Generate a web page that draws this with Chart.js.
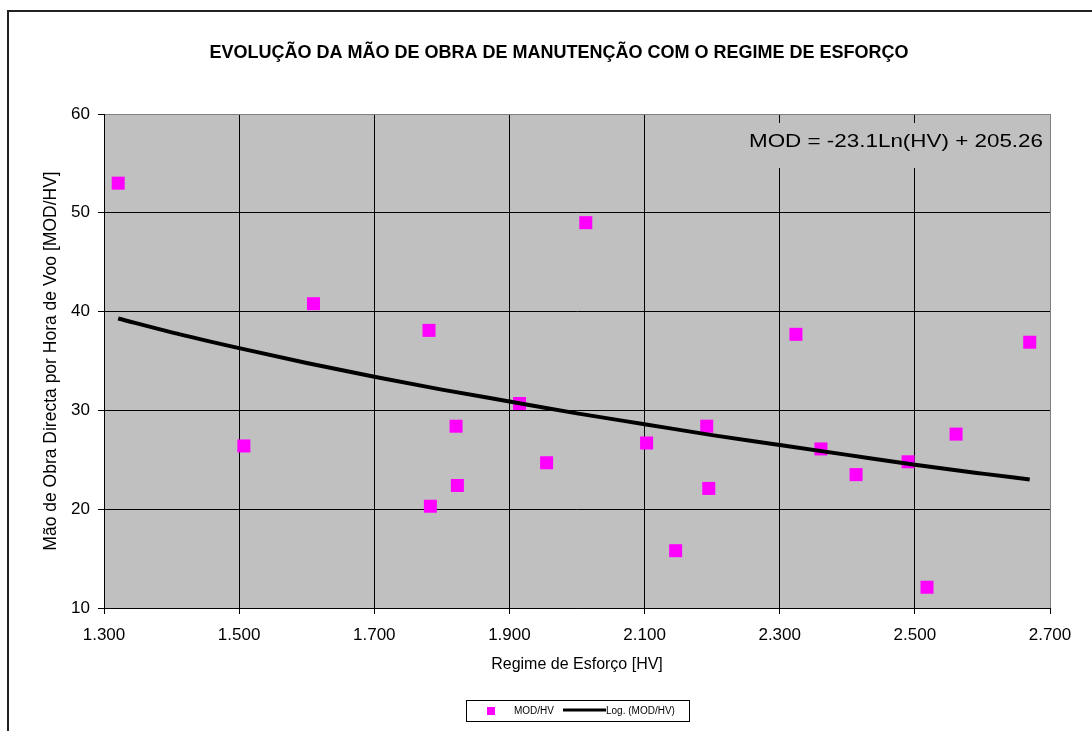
<!DOCTYPE html>
<html>
<head>
<meta charset="utf-8">
<script src="https://cdn.jsdelivr.net/npm/chart.js@4"></script>
<style>
  html, body { margin: 0; padding: 0; background: #fff; overflow: hidden; }
  #wrap { width: 1092px; height: 731px; }
</style>
</head>
<body>
<div id="wrap"><canvas id="chart"></canvas></div>
<script>
// Regime de Esforço [HV] vs MOD/HV
var hv = [1321, 1507, 1610, 1781, 1783, 1821, 1823, 1915, 1955, 2013, 2103,
          2146, 2192, 2195, 2324, 2361, 2413, 2490, 2518, 2561, 2670];
var mod = [53.0, 26.4, 40.8, 38.1, 20.3, 28.4, 22.4, 30.7, 24.7, 49.0, 26.7,
           15.8, 28.4, 22.1, 37.7, 26.1, 23.5, 24.8, 12.1, 27.6, 36.9];

// logarithmic trend line
var trendHv = [1321, 1400, 1500, 1600, 1700, 1800, 1900, 2000, 2100, 2200, 2300, 2400, 2500, 2600, 2670];
var trendMod = [39.3, 37.9, 36.3, 34.8, 33.4, 32.1, 30.9, 29.7, 28.6, 27.5, 26.5, 25.5, 24.5, 23.6, 23.0];

var title = 'EVOLUÇÃO DA MÃO DE OBRA DE MANUTENÇÃO COM O REGIME DE ESFORÇO';
var equation = 'MOD = -23.1Ln(HV) + 205.26';
var font = '"Liberation Sans", Arial, sans-serif';

function fmtThousands(v) {
    var s = Math.round(v).toString();
    return s.slice(0, s.length - 3) + '.' + s.slice(s.length - 3);
}

var points = [];
hv.forEach(function(x, i) { points.push({x: x, y: mod[i]}); });
var trend = [];
trendHv.forEach(function(x, i) { trend.push({x: x, y: trendMod[i]}); });

var extras = {
    id: 'extras',
    beforeDatasetsDraw: function(chart) {
        var ctx = chart.ctx;
        var a = chart.chartArea;
        ctx.save();
        ctx.fillStyle = '#c0c0c0';
        ctx.fillRect(745, 123, a.right - 746, 45);
        // equation label, stretched to the width it has in the original
        ctx.fillStyle = '#000';
        ctx.font = '19px ' + font;
        ctx.textAlign = 'left';
        ctx.textBaseline = 'middle';
        var w = ctx.measureText(equation).width;
        ctx.translate(749, 142);
        ctx.scale(294 / w, 1);
        ctx.fillText(equation, 0, 0);
        ctx.restore();
    },
    afterDraw: function(chart) {
        var ctx = chart.ctx;
        ctx.save();
        // outer frame (the chart object runs past the right edge)
        ctx.strokeStyle = '#222';
        ctx.lineWidth = 2;
        ctx.strokeRect(8, 11, 1200, 800);
        // title, centred on the whole frame
        ctx.fillStyle = '#000';
        ctx.font = 'bold 18px ' + font;
        ctx.textAlign = 'center';
        ctx.textBaseline = 'middle';
        ctx.fillText(title, 559, 53);
        // legend
        ctx.lineWidth = 1;
        ctx.strokeStyle = '#000';
        ctx.strokeRect(466.5, 700.5, 223, 21);
        ctx.fillStyle = '#ff00ff';
        ctx.fillRect(487, 707, 8, 8);
        ctx.fillStyle = '#000';
        ctx.font = '10px ' + font;
        ctx.textAlign = 'left';
        ctx.fillText('MOD/HV', 514, 711);
        ctx.lineWidth = 3;
        ctx.beginPath();
        ctx.moveTo(563, 710);
        ctx.lineTo(606, 710);
        ctx.stroke();
        ctx.fillText('Log. (MOD/HV)', 606, 711);
        ctx.restore();
    }
};

var plotBg = {
    id: 'plotBg',
    beforeDraw: function(chart) {
        var a = chart.chartArea;
        chart.ctx.save();
        chart.ctx.fillStyle = '#c0c0c0';
        chart.ctx.fillRect(a.left, a.top, a.right - a.left, a.bottom - a.top);
        chart.ctx.restore();
    }
};

new Chart(document.getElementById('chart'), {
    type: 'scatter',
    data: {
        datasets: [{
            label: 'MOD/HV',
            data: points,
            pointStyle: 'rect',
            pointRadius: 9.2,
            pointHoverRadius: 9.2,
            backgroundColor: '#ff00ff',
            borderColor: '#ff00ff',
            borderWidth: 0,
            order: 2
        }, {
            label: 'Log. (MOD/HV)',
            type: 'line',
            data: trend,
            borderColor: '#000',
            borderWidth: 4,
            pointRadius: 0,
            fill: false,
            cubicInterpolationMode: 'monotone',
            order: 1
        }]
    },
    options: {
        responsive: true,
        maintainAspectRatio: false,
        animation: false,
        layout: {
            padding: {left: 0, right: 42, top: 114, bottom: 53}
        },
        plugins: {
            legend: {
                display: false
            },
            tooltip: {
                enabled: false
            }
        },
        scales: {
            x: {
                type: 'linear',
                min: 1300,
                max: 2700,
                afterFit: function(s) { s.height = 70; },
                ticks: {
                    stepSize: 200,
                    color: '#000',
                    padding: 11,
                    font: {family: font, size: 17},
                    maxRotation: 0,
                    callback: function(v) { return fmtThousands(v); }
                },
                grid: {
                    color: function(c) { return c.tick && c.tick.value === 2700 ? '#808080' : '#000'; },
                    tickColor: '#000',
                    tickLength: 6
                },
                border: {color: '#000', width: 1},
                title: {
                    display: true,
                    text: 'Regime de Esforço [HV]',
                    color: '#000',
                    font: {family: font, size: 16},
                    padding: {top: 0, bottom: 4}
                }
            },
            y: {
                min: 10,
                max: 60,
                afterFit: function(s) { s.width = 104; },
                ticks: {
                    stepSize: 10,
                    color: '#000',
                    padding: 8,
                    font: {family: font, size: 17}
                },
                grid: {
                    color: function(c) { return c.tick && c.tick.value === 60 ? '#808080' : '#000'; },
                    tickColor: '#000',
                    tickLength: 6
                },
                border: {color: '#000', width: 1},
                title: {
                    display: true,
                    text: 'Mão de Obra Directa por Hora de Voo [MOD/HV]',
                    color: '#000',
                    font: {family: font, size: 17.5},
                    padding: {top: 41, bottom: 0}
                }
            }
        }
    },
    plugins: [plotBg, extras]
});
</script>
</body>
</html>
